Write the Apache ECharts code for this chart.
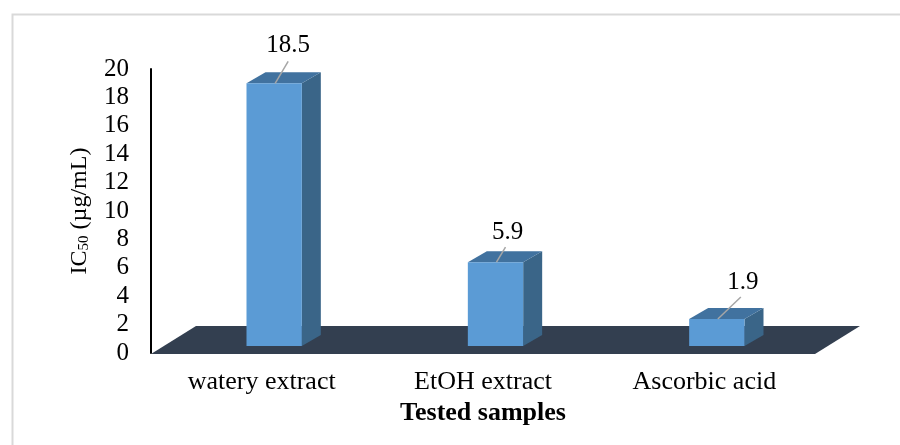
<!DOCTYPE html>
<html>
<head>
<meta charset="utf-8">
<script src="https://cdn.jsdelivr.net/npm/echarts@6/dist/echarts.min.js"></script>
<style>
html,body{margin:0;padding:0;background:#fff;}
#chart{width:900px;height:445px;}
</style>
</head>
<body>
<div id="chart"></div>
<script>
// ---- data ----
const categories = ['watery extract', 'EtOH extract', 'Ascorbic acid'];
const ic50Values = [18.5, 5.9, 1.9];
const yMin = 0, yMax = 20, yStep = 2;
const xTitle = 'Tested samples';
const yTitle = 'IC{s|50} (µg/mL)';

// ---- styling / 3D layout constants ----
const FONT = 'Liberation Serif';
const FRONT_DX = 12.5, FRONT_DY = -7;   // bar front face offset into the floor
const SIDE_DX = 19, SIDE_DY = -11;      // bar depth
const FLOOR_DX = 45, FLOOR_DY = -27;    // floor depth
const LABEL_NUDGE = [[14, -38], [12, -30], [26, -37]]; // leader label placement (style)
const LEADER_END = [[13, -22], [9, -15], [23, -22]];

const chart = echarts.init(document.getElementById('chart'), null, {renderer: 'canvas'});

function renderFloor(params, api) {
  const cs = params.coordSys;
  const y0 = api.coord([0, yMin])[1];
  return {
    type: 'polygon',
    shape: {points: [
      [cs.x, y0 + 1], [cs.x + cs.width, y0 + 1],
      [cs.x + cs.width + FLOOR_DX, y0 + FLOOR_DY], [cs.x + FLOOR_DX, y0 + FLOOR_DY]
    ]},
    style: {fill: '#333f50'}
  };
}

function renderBar(params, api) {
  const i = api.value(0), v = api.value(1);
  const base = api.coord([i, yMin]);
  const top = api.coord([i, v]);
  const bw = api.size([1, 0])[0] * 0.25;
  const cx = base[0] + FRONT_DX;
  const yb = base[1] + FRONT_DY;
  const yt = top[1] + FRONT_DY;
  const x0 = cx - bw / 2, x1 = cx + bw / 2;
  const n = LABEL_NUDGE[params.dataIndex], le = LEADER_END[params.dataIndex];
  return {
    type: 'group',
    children: [
      {type: 'polygon', shape: {points: [[x1, yt], [x1 + SIDE_DX, yt + SIDE_DY], [x1 + SIDE_DX, yb + SIDE_DY], [x1, yb]]},
        style: {fill: '#3a6588'}},
      {type: 'polygon', shape: {points: [[x0, yt], [x1, yt], [x1 + SIDE_DX, yt + SIDE_DY], [x0 + SIDE_DX, yt + SIDE_DY]]},
        style: {fill: '#41729f'}},
      {type: 'rect', shape: {x: x0, y: yt, width: bw, height: yb - yt},
        style: {fill: '#5b9bd5'}},
      {type: 'line', shape: {x1: cx + 1, y1: yt, x2: cx + 1 + le[0], y2: yt + le[1]},
        style: {stroke: '#a6a6a6', lineWidth: 1.5}},
      {type: 'text', x: cx + n[0], y: yt + n[1],
        style: {text: String(v), font: '25px "' + FONT + '"', fill: '#000', align: 'center', verticalAlign: 'middle'}}
    ]
  };
}

chart.setOption({
  animation: false,
  backgroundColor: '#fff',
  graphic: [{
    type: 'rect', left: 10, top: 12, z: -10,
    shape: {width: 900, height: 445},
    style: {fill: 'none', stroke: '#d9d9d9', lineWidth: 2}
  }],
  grid: {left: 151, right: 85, top: 69, bottom: 92},
  xAxis: {
    type: 'category',
    data: categories,
    axisLine: {show: false},
    axisTick: {show: false},
    axisLabel: {fontFamily: FONT, fontSize: 26, color: '#000', margin: 16},
    name: xTitle,
    nameLocation: 'middle',
    nameGap: 47,
    nameTextStyle: {fontFamily: FONT, fontSize: 26, fontWeight: 'bold', color: '#000'}
  },
  yAxis: {
    type: 'value',
    min: yMin, max: yMax, interval: yStep,
    axisLine: {show: true, lineStyle: {color: '#000', width: 2}},
    axisTick: {show: false},
    splitLine: {show: false},
    axisLabel: {fontFamily: FONT, fontSize: 25, color: '#000', margin: 22},
    name: yTitle,
    nameLocation: 'middle',
    nameGap: 59,
    nameTextStyle: {
      fontFamily: FONT, fontSize: 24, color: '#000',
      rich: {s: {fontFamily: FONT, fontSize: 15, color: '#000', padding: [10, 0, 0, 0]}}
    }
  },
  series: [
    {type: 'custom', renderItem: renderFloor, data: [[0, 0]], z: 1, silent: true},
    {type: 'custom', renderItem: renderBar, data: ic50Values.map((v, i) => [i, v]), z: 2,
      encode: {x: 0, y: 1}}
  ]
});
</script>
</body>
</html>
